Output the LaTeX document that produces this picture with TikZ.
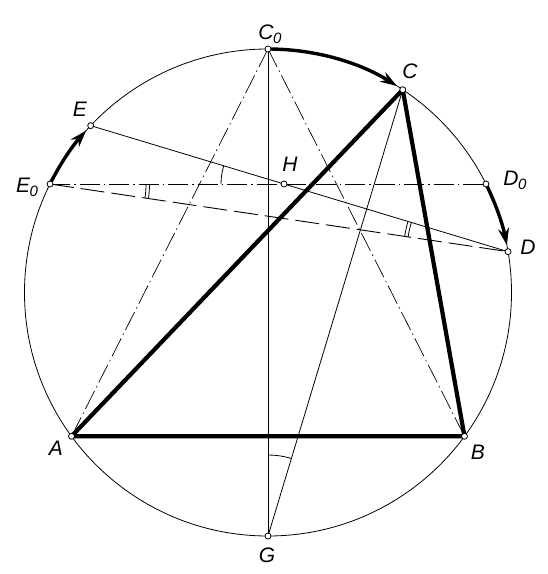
\documentclass[tikz,border=0pt]{standalone}
\usepackage{fontspec}
\setmainfont{Liberation Sans}
\usetikzlibrary{arrows.meta,calc}
\newcommand{\subo}[1]{#1\kern-0.5pt\raisebox{-4pt}{\fontsize{15}{15}\selectfont 0}}
\begin{document}
\begin{tikzpicture}[x=1pt,y=1pt,
  thinline/.style={line width=0.8pt},
  thickline/.style={line width=4.2pt, line join=round, line cap=round},
  dashdot/.style={line width=0.7pt, dash pattern=on 20pt off 4pt on 1.5pt off 4pt},
  longdash/.style={line width=0.9pt, dash pattern=on 24pt off 7pt},
  ptmark/.style={circle, draw, fill=white, inner sep=0pt, minimum size=6pt, line width=0.8pt},
  lbl/.style={font=\fontsize{21}{25}\selectfont\itshape, inner sep=1pt},
  arcarrow/.style={line width=3.4pt, -{Stealth[length=17pt,width=11pt]}}
]
\useasboundingbox (-268,-281.5) rectangle (280,292.5);
\def\R{243.5}
\coordinate (O) at (0,0);
\coordinate (C0) at (90:\R);
\coordinate (G) at (270:\R);
\coordinate (C) at (56.4:\R);
\coordinate (A) at (216.2:\R);
\coordinate (B) at (-36.2:\R);
\coordinate (E0) at (153.54:\R);
\coordinate (D0) at (26.46:\R);
\coordinate (E) at (136.74:\R);
\coordinate (D) at (9.66:\R);
\coordinate (H) at (intersection of E--D and E0--D0);

% circle
\draw[thinline] (O) circle[radius=\R];

% construction lines
\draw[thinline] (C0) -- (G);
\draw[dashdot] (C0) -- (A);
\draw[dashdot] (C0) -- (B);
\draw[thinline] (C) -- (G);
\draw[dashdot] (E0) -- (D0);
\draw[thinline] (E) -- (D);
\draw[longdash] (E0) -- (D);

% angle marks
\draw[thinline] ($(G)+(90:81)$) arc[start angle=90, end angle=73.2, radius=81];
\draw[thinline] ($(H)+(180:63)$) arc[start angle=180, end angle=163.2, radius=63];
\draw[thinline] ($(E0)+(0:96)$) arc[start angle=0, end angle=-8.4, radius=96];
\draw[thinline] ($(E0)+(0:99.5)$) arc[start angle=0, end angle=-8.4, radius=99.5];
\draw[thinline] ($(D)+(163.2:101)$) arc[start angle=163.2, end angle=171.6, radius=101];
\draw[thinline] ($(D)+(163.2:104.5)$) arc[start angle=163.2, end angle=171.6, radius=104.5];

% triangle
\draw[thickline] (A) -- (B) -- (C) -- cycle;

% rotation arrows
\draw[arcarrow] (C0) arc[start angle=90, end angle=58, radius=\R];
\draw[arcarrow] (E0) arc[start angle=153.54, end angle=138.3, radius=\R];
\draw[arcarrow] (D0) arc[start angle=26.46, end angle=11.2, radius=\R];

% points
\foreach \p in {C0,G,C,A,B,E0,D0,E,D,H} \node[ptmark] (m\p) at (\p) {};

% labels
\node[lbl] (lC0) at (2,258) {\subo{C}};
\node[lbl] (lC) at (142,221) {C};
\node[lbl] (lE) at (-188,183) {E};
\node[lbl] (lE0) at (-241,105.5) {\subo{E}};
\node[lbl] (lH) at (22,128) {H};
\node[lbl] (lD0) at (247,112.5) {\subo{D}};
\node[lbl] (lD) at (260,45.5) {D};
\node[lbl] (lA) at (-212,-156) {A};
\node[lbl] (lB) at (210,-160) {B};
\node[lbl] (lG) at (-1,-263) {G};
\end{tikzpicture}
\end{document}
